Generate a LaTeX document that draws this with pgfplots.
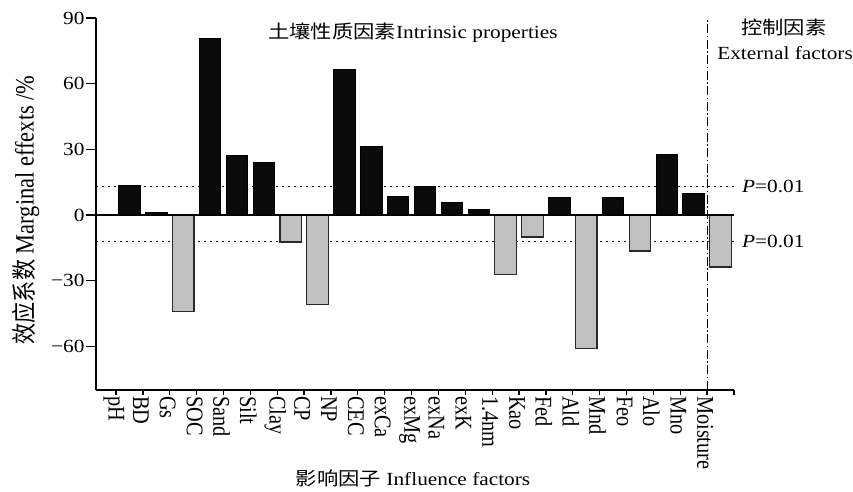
\documentclass[border=0pt]{standalone}
\usepackage{fontspec}
\setmainfont{Liberation Serif}[FakeStretch=1.15]
\newfontfamily\cjk{Noto Sans CJK SC}[FakeStretch=1.15]
\newfontfamily\rot{Liberation Serif}[FakeStretch=0.85]
\newfontfamily\rotcjk{Noto Sans CJK SC}[FakeStretch=0.85]
\usepackage{pgfplots}
\usepackage{pgfplotstable}
\pgfplotsset{compat=1.18}

\definecolor{barblack}{HTML}{0A0A0A}
\definecolor{bargray}{HTML}{C0C0C0}
\definecolor{edgegray}{HTML}{2A2A2A}

\pgfplotstableread{
x y
0.5 13.6
1.5 1.0
3.5 80.7
4.5 27.2
5.5 24.1
8.5 66.3
9.5 31.1
10.5 8.6
11.5 12.8
12.5 5.8
13.5 2.7
16.5 7.9
18.5 7.9
20.5 27.8
21.5 9.8
}\pos

\pgfplotstableread{
x y
2.5 -44.1
6.5 -12.4
7.5 -40.9
14.5 -27.3
15.5 -10.1
17.5 -60.9
19.5 -16.5
22.5 -23.8
}\neg

\begin{document}
\begin{tikzpicture}
\useasboundingbox (0,0) rectangle (853bp,492bp);
\begin{axis}[
  at={(96bp,102bp)}, anchor=south west,
  scale only axis, width=638bp, height=372bp,
  xmin=-0.745, xmax=23, ymin=-80, ymax=90,
  axis x line=bottom, axis y line=left,
  axis line style={-, line width=1.3bp, black},
  tick align=outside,
  major tick length=5bp,
  ytick style={/pgfplots/major tick length=10bp},
  tick style={line width=1.3bp, black},
  xtick={0,...,23},
  xticklabels={pH,BD,Gs,SOC,Sand,Silt,Clay,CP,NP,CEC,exCa,exMg,exNa,exK,1.4nm,Kao,Fed,Ald,Mnd,Feo,Alo,Mno,Moisture,{}},
  xticklabel style={rotate=-90, anchor=west, font=\rot\fontsize{24}{28}\selectfont, inner sep=1bp, yshift=-2bp},
  ytick={-60,-30,0,30,60,90},
  yticklabels={−60,−30,0,30,60,90},
  yticklabel style={font=\fontsize{18.6}{21}\selectfont, xshift=-3bp},
  xlabel={{\cjk 影响因子} Influence factors},
  xlabel style={at={(axis description cs:0.497,-0.2366)}, anchor=center, font=\fontsize{18.6}{21}\selectfont},
  ylabel={{\rotcjk\fontsize{25}{28}\selectfont 效应系数} Marginal effexts /\%},
  ylabel style={at={(axis description cs:-0.110,0.484)}, anchor=center, font=\rot\fontsize{26.5}{30}\selectfont},
  clip=false,
]
\addplot[black, line width=1bp, dash pattern=on 1.5bp off 4.5bp] coordinates {(-0.745,13) (23,13)};
\addplot[black, line width=1bp, dash pattern=on 1.5bp off 4.5bp] coordinates {(-0.745,-12) (23,-12)};
\addplot[black, line width=1bp, dash pattern=on 9bp off 2.5bp on 1.5bp off 2.5bp] coordinates {(22,-80) (22,89)};
\addplot[ybar, bar width=0.8, bar shift=0pt, fill=barblack, draw=black, line width=1bp] table[x=x,y=y] {\pos};
\addplot[ybar, bar width=0.8, bar shift=0pt, fill=bargray, draw=edgegray, line width=1.2bp] table[x=x,y=y] {\neg};
\addplot[black, line width=1.3bp] coordinates {(-0.745,0) (23,0)};
\node[font=\fontsize{18.6}{21}\selectfont] at (axis cs:11.05,83.2) {{\cjk 土壤性质因素}Intrinsic properties};
\node[font=\fontsize{18.6}{21}\selectfont] at (axis cs:24.86,85.9) {\cjk 控制因素};
\node[font=\fontsize{18.6}{21}\selectfont] at (axis cs:24.9,74.0) {External factors};
\node[font=\fontsize{18.6}{21}\selectfont, anchor=west, inner sep=0pt] at ([xshift=8bp]axis cs:23,13) {\textit{P}=0.01};
\node[font=\fontsize{18.6}{21}\selectfont, anchor=west, inner sep=0pt] at ([xshift=8bp]axis cs:23,-12) {\textit{P}=0.01};
\end{axis}
\end{tikzpicture}
\end{document}
